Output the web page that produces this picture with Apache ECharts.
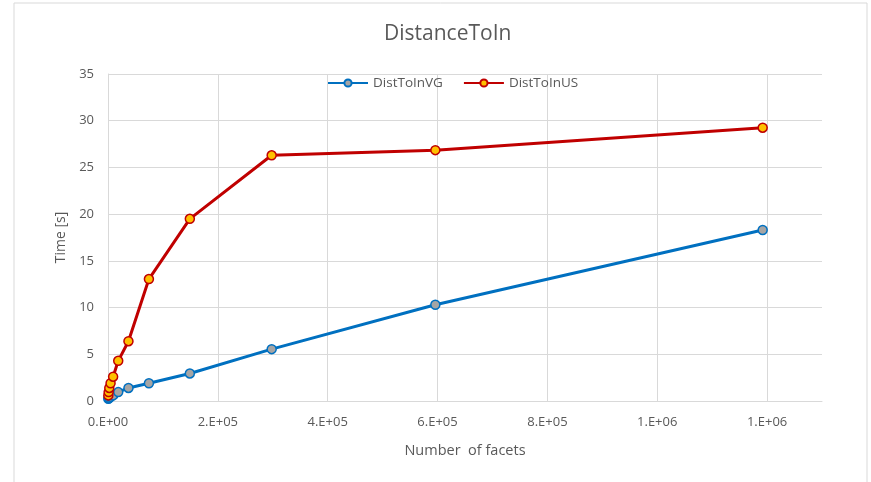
<!DOCTYPE html>
<html>
<head>
<meta charset="utf-8">
<script src="https://cdn.jsdelivr.net/npm/echarts@6/dist/echarts.min.js"></script>
<style>
  html, body { margin: 0; padding: 0; background: #fff; }
  #main { width: 871px; height: 482px; }
</style>
</head>
<body>
<div id="main"></div>
<script>
// facet counts (x) and timings (y, seconds)
var facets = [582, 1164, 2328, 4656, 9313, 18625, 37250, 74500, 149000, 298000, 596000, 1192000];
var distToInVG = [0.25, 0.3, 0.35, 0.45, 0.6, 0.95, 1.4, 1.9, 2.95, 5.55, 10.3, 18.3];
var distToInUS = [0.6, 0.95, 1.4, 1.9, 2.6, 4.3, 6.4, 13.05, 19.5, 26.3, 26.85, 29.25];

var xTickValues = [0, 200000, 400000, 600000, 800000, 1000000, 1200000];
var xTickLabels = ['0.E+00', '2.E+05', '4.E+05', '6.E+05', '8.E+05', '1.E+06', '1.E+06'];

var textColor = '#595959';
var gridColor = '#d9d9d9';
var font = '"Open Sans", sans-serif';

function pairs(xs, ys) {
  return xs.map(function (x, i) { return [x, ys[i]]; });
}

var chart = echarts.init(document.getElementById('main'), null, { renderer: 'canvas' });

var option = {
  backgroundColor: '#fff',
  animation: false,
  textStyle: { fontFamily: font },
  title: {
    text: 'DistanceToIn',
    left: 379,
    top: 19,
    textStyle: { color: textColor, fontSize: 21, fontWeight: 'normal', fontFamily: font }
  },
  graphic: [{
    type: 'rect',
    shape: { x: 14, y: 3, width: 853, height: 500 },
    style: { fill: 'none', stroke: gridColor, lineWidth: 1 },
    silent: true
  }],
  legend: {
    top: 71,
    left: 322,
    itemWidth: 40,
    itemHeight: 9,
    itemGap: 20,
    textStyle: { color: textColor, fontSize: 13.5, fontFamily: font },
    data: ['DistToInVG', 'DistToInUS']
  },
  grid: {
    left: 108,
    right: 49,
    top: 74,
    bottom: 81,
    containLabel: false
  },
  xAxis: {
    type: 'value',
    min: 0,
    max: 1300000,
    interval: 200000,
    name: 'Number  of facets',
    nameLocation: 'middle',
    nameGap: 42,
    nameTextStyle: { color: textColor, fontSize: 14.5, fontFamily: font },
    axisLine: { show: true, lineStyle: { color: gridColor, width: 1 } },
    axisTick: { show: false },
    splitLine: { show: true, showMinLine: false, showMaxLine: false, lineStyle: { color: gridColor, width: 1 } },
    axisLabel: {
      color: textColor,
      fontSize: 13,
      margin: 15,
      showMaxLabel: false,
      formatter: function (v) {
        var i = xTickValues.indexOf(v);
        return i >= 0 ? xTickLabels[i] : '';
      }
    }
  },
  yAxis: {
    type: 'value',
    min: 0,
    max: 35,
    interval: 5,
    name: 'Time [s]',
    nameLocation: 'middle',
    nameGap: 38,
    nameRotate: 90,
    nameTextStyle: { color: textColor, fontSize: 14, fontFamily: font },
    axisLine: { show: true, lineStyle: { color: gridColor, width: 1 } },
    axisTick: { show: false },
    splitLine: { show: true, lineStyle: { color: gridColor, width: 1 } },
    axisLabel: { color: textColor, fontSize: 13, margin: 14 }
  },
  series: [
    {
      name: 'DistToInVG',
      type: 'line',
      data: pairs(facets, distToInVG),
      symbol: 'circle',
      symbolSize: 9,
      showAllSymbol: true,
      lineStyle: { color: '#0070C0', width: 3 },
      itemStyle: { color: '#A5A5A5', borderColor: '#0070C0', borderWidth: 1.5 },
      z: 2
    },
    {
      name: 'DistToInUS',
      type: 'line',
      data: pairs(facets, distToInUS),
      symbol: 'circle',
      symbolSize: 9,
      showAllSymbol: true,
      lineStyle: { color: '#C00000', width: 3 },
      itemStyle: { color: '#FFC000', borderColor: '#C00000', borderWidth: 1.5 },
      z: 3
    }
  ]
};

chart.setOption(option);
</script>
</body>
</html>
